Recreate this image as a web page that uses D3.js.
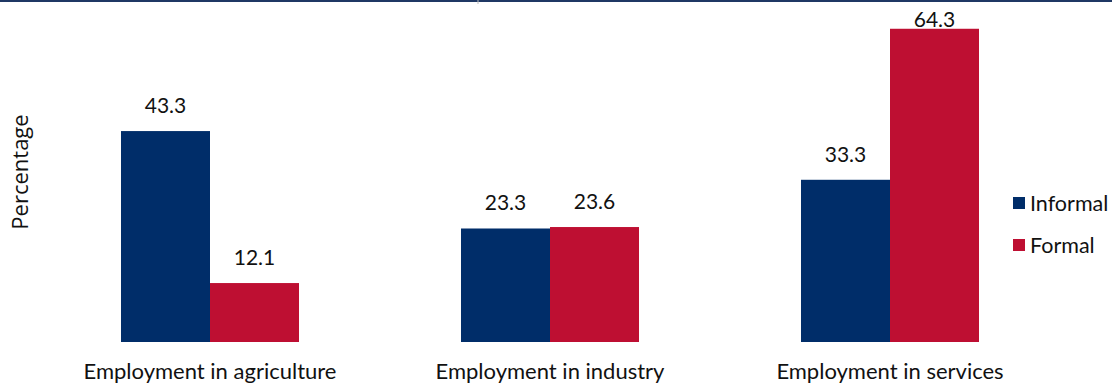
<!DOCTYPE html>
<html>
<head>
<meta charset="utf-8">
<script src="https://cdn.jsdelivr.net/npm/d3@7"></script>
<style>
  html, body { margin: 0; padding: 0; background: #fff; }
  svg { display: block; }
</style>
</head>
<body>
<svg id="chart" width="1112" height="383"></svg>
<script>
const categories = ["Employment in agriculture", "Employment in industry", "Employment in services"];
const seriesNames = ["Informal", "Formal"];
const informalValues = [43.3, 23.3, 33.3];
const formalValues = [12.1, 23.6, 64.3];
const seriesColors = ["#002D69", "#BE0F32"];
const yAxisTitle = "Percentage";

const values = [informalValues, formalValues];
const svg = d3.select("#chart");
const font = "Lato, 'Open Sans', 'Noto Sans', sans-serif";

const y = d3.scaleLinear().domain([0, 70]).range([342, 1]);
const x0 = d3.scaleBand().domain(categories).range([40, 1060]).padding(0);
const x1 = d3.scaleBand().domain(seriesNames).range([0, x0.bandwidth()])
  .paddingInner(0).paddingOuter(0.91);

// top border line
svg.append("line").attr("x1", 0).attr("x2", 1112).attr("y1", 1).attr("y2", 1)
  .attr("stroke", "#1F3864").attr("stroke-width", 2);
svg.append("line").attr("x1", 478).attr("x2", 478).attr("y1", 0).attr("y2", 4)
  .attr("stroke", "#bbb").attr("stroke-width", 1);

const groups = svg.append("g").selectAll("g").data(categories).join("g")
  .attr("transform", d => `translate(${x0(d)},0)`);

seriesNames.forEach((s, si) => {
  groups.append("rect")
    .attr("x", x1(s))
    .attr("width", x1.bandwidth())
    .attr("y", (d, i) => y(values[si][i]))
    .attr("height", (d, i) => y(0) - y(values[si][i]))
    .attr("fill", seriesColors[si]);
  groups.append("text")
    .attr("x", x1(s) + x1.bandwidth() / 2)
    .attr("y", (d, i) => Math.max(y(values[si][i]) - 18, 27))
    .attr("text-anchor", "middle")
    .attr("font-family", font)
    .attr("font-size", 21)
    .attr("fill", "#111")
    .text((d, i) => values[si][i].toFixed(1));
});

// category labels
svg.append("g").selectAll("text").data(categories).join("text")
  .attr("x", d => x0(d) + x0.bandwidth() / 2)
  .attr("y", 379)
  .attr("text-anchor", "middle")
  .attr("font-family", font)
  .attr("font-size", 22)
  .attr("fill", "#111")
  .text(d => d);

// y axis title
svg.append("text")
  .attr("transform", "translate(28,172) rotate(-90)")
  .attr("text-anchor", "middle")
  .attr("font-family", "'Open Sans', 'Noto Sans', sans-serif")
  .attr("font-size", 22)
  .attr("fill", "#111")
  .text(yAxisTitle);

// legend
const legend = svg.append("g").selectAll("g").data(seriesNames).join("g")
  .attr("transform", (d, i) => `translate(1013,${197 + i * 42})`);
legend.append("rect").attr("width", 12).attr("height", 12)
  .attr("fill", (d, i) => seriesColors[i]);
legend.append("text").attr("x", 17).attr("y", 6).attr("dy", "0.36em")
  .attr("font-family", font).attr("font-size", 21.5).attr("fill", "#111")
  .text(d => d);
</script>
</body>
</html>
